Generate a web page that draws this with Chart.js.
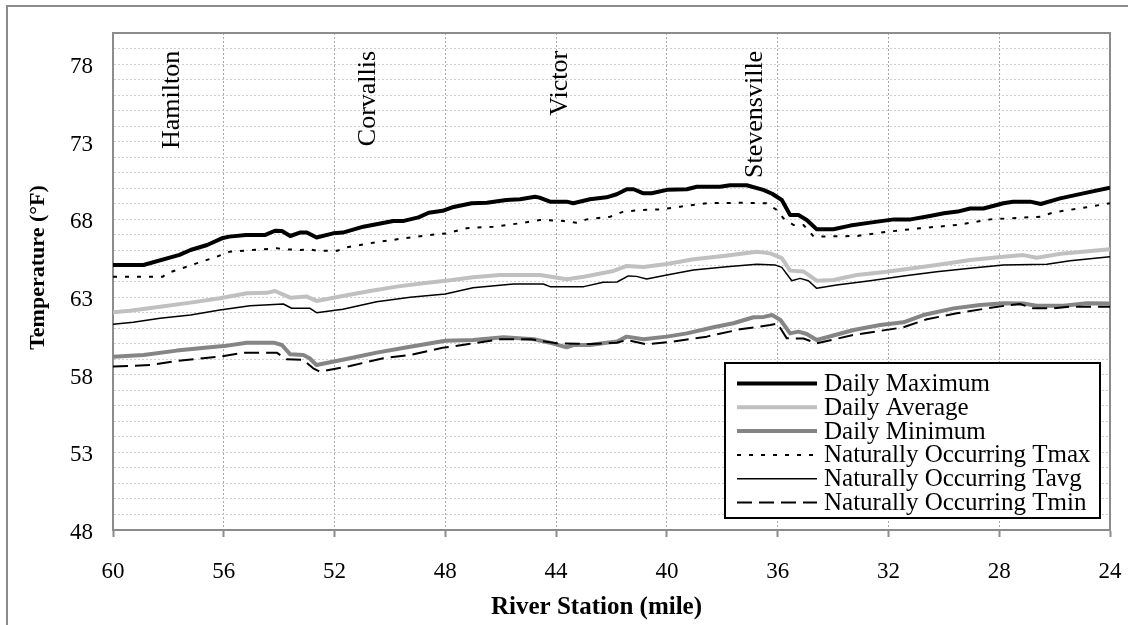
<!DOCTYPE html>
<html>
<head>
<meta charset="utf-8">
<script src="https://cdn.jsdelivr.net/npm/chart.js@4/dist/chart.umd.min.js"></script>
<style>
  html, body { margin: 0; padding: 0; background: #ffffff; }
  #wrap { width: 1128px; height: 625px; position: relative; }
</style>
</head>
<body>
<div id="wrap"><canvas id="c" width="1128" height="625"></canvas></div>
<script>
// ---------- data (river mile, temperature °F) ----------
const maxMiles = [60, 58.9, 57.6, 57.2, 56.6, 56.07, 55.8, 55.2, 54.5, 54.15, 53.9, 53.6, 53.25, 53.0, 52.65, 52.05, 51.7, 50.96, 49.88, 49.5, 48.97, 48.6, 48.1, 47.7, 47.05, 46.5, 45.8, 45.3, 44.76, 44.6, 44.22, 43.62, 43.38, 42.78, 42.18, 41.81, 41.45, 41.2, 40.85, 40.55, 40.0, 39.28, 38.92, 38.08, 37.72, 37.12, 36.52, 36.2, 35.85, 35.55, 35.25, 34.95, 34.59, 33.99, 33.38, 32.66, 31.8, 31.2, 30.5, 30.0, 29.5, 29.05, 28.57, 27.85, 27.5, 26.88, 26.5, 25.8, 24.84, 24.0];
const maxValues = [65.06, 65.06, 65.71, 66.03, 66.35, 66.78, 66.89, 67.0, 67.0, 67.27, 67.25, 66.93, 67.15, 67.15, 66.83, 67.1, 67.15, 67.53, 67.9, 67.9, 68.13, 68.43, 68.55, 68.8, 69.04, 69.07, 69.25, 69.3, 69.46, 69.4, 69.14, 69.14, 69.04, 69.3, 69.42, 69.62, 69.94, 69.94, 69.68, 69.68, 69.9, 69.94, 70.1, 70.1, 70.2, 70.2, 69.9, 69.65, 69.25, 68.28, 68.28, 67.96, 67.36, 67.36, 67.6, 67.79, 68.0, 68.0, 68.22, 68.39, 68.5, 68.7, 68.7, 69.04, 69.14, 69.14, 68.99, 69.35, 69.72, 70.04];

const avgMiles = [60, 59.4, 58.3, 57.2, 56.14, 55.17, 54.45, 54.15, 53.6, 53.0, 52.65, 51.8, 50.72, 49.76, 48.8, 47.83, 47.0, 46.03, 44.58, 43.62, 43.0, 41.93, 41.45, 40.85, 40.0, 39.04, 37.96, 36.75, 36.27, 35.85, 35.55, 35.07, 34.59, 33.99, 33.14, 32.06, 30.26, 29.05, 27.85, 27.13, 26.65, 25.68, 24.0];
const avgValues = [62.02, 62.12, 62.38, 62.64, 62.92, 63.24, 63.27, 63.39, 62.96, 63.03, 62.75, 63.03, 63.39, 63.67, 63.89, 64.08, 64.27, 64.42, 64.42, 64.14, 64.31, 64.68, 65.0, 64.93, 65.13, 65.43, 65.64, 65.92, 65.81, 65.5, 64.7, 64.65, 64.05, 64.1, 64.42, 64.63, 65.06, 65.39, 65.6, 65.7, 65.53, 65.81, 66.07];

const minMiles = [60, 58.9, 57.7, 56.5, 56.0, 55.17, 54.2, 53.9, 53.6, 53.13, 52.9, 52.65, 51.44, 50.48, 49.27, 48.0, 47.0, 45.9, 44.8, 44.22, 43.62, 43.38, 42.78, 42.18, 41.8, 41.45, 40.85, 40.0, 39.28, 38.32, 37.6, 36.87, 36.5, 36.2, 35.9, 35.55, 35.25, 34.95, 34.59, 33.26, 32.3, 31.46, 30.74, 29.65, 28.69, 27.85, 27.13, 26.65, 25.68, 24.84, 24.0];
const minValues = [59.16, 59.27, 59.55, 59.76, 59.84, 60.06, 60.06, 59.91, 59.31, 59.27, 59.06, 58.62, 59.06, 59.42, 59.8, 60.18, 60.23, 60.41, 60.28, 60.06, 59.76, 59.91, 59.91, 60.06, 60.13, 60.45, 60.28, 60.45, 60.66, 61.05, 61.31, 61.7, 61.72, 61.84, 61.52, 60.66, 60.77, 60.62, 60.23, 60.88, 61.2, 61.37, 61.84, 62.27, 62.49, 62.6, 62.58, 62.44, 62.44, 62.6, 62.58];

const natMaxMiles = [60, 58.2, 58.06, 57.16, 56.25, 55.78, 54.09, 53.73, 53.25, 52.9, 52.65, 51.9, 51.56, 50.6, 49.5, 48.55, 47.95, 47.23, 46.27, 45.3, 44.58, 43.74, 43.26, 42.9, 42.05, 41.57, 40.97, 40.25, 39.52, 38.56, 37.35, 36.4, 36.03, 35.79, 35.43, 35.07, 34.7, 33.14, 32.06, 30.85, 29.53, 28.33, 26.52, 26.04, 24.84, 24.0];
const natMaxValues = [64.31, 64.31, 64.53, 65.06, 65.6, 65.92, 66.14, 66.07, 66.03, 66.07, 65.98, 65.98, 66.2, 66.5, 66.78, 67.0, 67.1, 67.43, 67.53, 67.75, 67.96, 67.9, 67.79, 68.0, 68.17, 68.5, 68.6, 68.64, 68.82, 69.04, 69.07, 69.04, 68.6, 68.07, 67.64, 67.64, 66.89, 66.93, 67.2, 67.43, 67.64, 68.0, 68.17, 68.45, 68.78, 69.04];

const natAvgMiles = [60, 59.27, 58.3, 57.2, 56.14, 55.05, 53.85, 53.55, 52.9, 52.65, 51.7, 50.48, 49.27, 48.0, 47.0, 45.54, 44.46, 44.22, 43.0, 42.3, 41.8, 41.39, 41.1, 40.73, 40.0, 39.04, 37.84, 36.75, 36.1, 35.85, 35.49, 35.19, 34.89, 34.59, 33.87, 32.66, 31.46, 30.26, 29.05, 27.85, 26.28, 25.44, 24.0];
const natAvgValues = [61.25, 61.37, 61.63, 61.84, 62.17, 62.44, 62.55, 62.28, 62.28, 61.99, 62.21, 62.7, 62.98, 63.2, 63.6, 63.84, 63.84, 63.67, 63.67, 63.95, 63.97, 64.36, 64.33, 64.16, 64.42, 64.74, 64.95, 65.11, 65.07, 64.91, 64.05, 64.2, 64.05, 63.56, 63.78, 64.05, 64.36, 64.63, 64.85, 65.06, 65.11, 65.34, 65.6];

const natMinMiles = [60, 58.66, 57.7, 56.14, 55.3, 54.09, 53.73, 53.13, 52.77, 52.53, 51.44, 50.24, 49.27, 48.1, 47.0, 46.03, 44.9, 43.98, 42.78, 41.81, 41.45, 40.73, 39.77, 38.56, 37.36, 36.27, 36.0, 35.9, 35.67, 35.07, 34.59, 33.26, 31.46, 30.61, 29.53, 28.45, 27.6, 27.25, 26.77, 26.05, 25.44, 24.0];
const natMinValues = [58.52, 58.62, 58.88, 59.16, 59.42, 59.42, 58.99, 58.95, 58.41, 58.19, 58.56, 59.06, 59.27, 59.73, 60.02, 60.28, 60.28, 60.02, 59.98, 60.06, 60.23, 59.95, 60.13, 60.45, 60.92, 61.2, 61.3, 60.99, 60.34, 60.33, 60.02, 60.56, 61.05, 61.57, 61.95, 62.27, 62.49, 62.55, 62.27, 62.27, 62.38, 62.38];

const seriesLabels = ['Daily Maximum', 'Daily Average', 'Daily Minimum',
  'Naturally Occurring Tmax', 'Naturally Occurring Tavg', 'Naturally Occurring Tmin'];

// axis ticks and town labels
const xTickValues = [60, 56, 52, 48, 44, 40, 36, 32, 28, 24];
const yTickLabels = [48, 53, 58, 63, 68, 73, 78];
const yGridValues = [48,49,50,51,52,53,54,55,56,57,58,59,60,61,62,63,64,65,66,67,68,69,70,71,72,73,74,75,76,77,78,79,80];
const townNames = ['Hamilton', 'Corvallis', 'Victor', 'Stevensville'];
const townMiles = [57.87, 50.78, 43.86, 36.82];
const townTextTop = 78.85;

const xTitle = 'River Station (mile)';
const yTitle = 'Temperature (°F)';

// ---------- build ----------
const pts = (m, v) => m.map((x, i) => ({ x: x, y: v[i] }));
const SERIF = '"Liberation Serif", "Times New Roman", serif';
Chart.defaults.font.family = SERIF;
Chart.defaults.color = '#000000';

const datasets = [
  { label: seriesLabels[0], data: pts(maxMiles, maxValues), borderColor: '#000000', borderWidth: 4, order: 3 },
  { label: seriesLabels[1], data: pts(avgMiles, avgValues), borderColor: '#c0c0c0', borderWidth: 4, order: 3 },
  { label: seriesLabels[2], data: pts(minMiles, minValues), borderColor: '#858585', borderWidth: 4, order: 3 },
  { label: seriesLabels[3], data: pts(natMaxMiles, natMaxValues), borderColor: '#000000', borderWidth: 2, borderDash: [4, 8], order: 1 },
  { label: seriesLabels[4], data: pts(natAvgMiles, natAvgValues), borderColor: '#000000', borderWidth: 1.5, order: 1 },
  { label: seriesLabels[5], data: pts(natMinMiles, natMinValues), borderColor: '#000000', borderWidth: 2, borderDash: [15, 7], order: 1 }
];
datasets.forEach(d => { d.pointRadius = 0; d.tension = 0; d.fill = false; d.borderCapStyle = 'butt'; d.borderJoinStyle = 'round'; });

const decorPlugin = {
  id: 'decor',
  beforeDraw(chart) {
    const ctx = chart.ctx;
    ctx.save();
    ctx.fillStyle = '#ffffff';
    ctx.fillRect(0, 0, chart.width, chart.height);
    ctx.strokeStyle = '#8c8c8c';
    ctx.lineWidth = 2;
    ctx.strokeRect(7, 6, chart.width + 40, chart.height + 40);
    ctx.restore();
  },
  beforeDatasetsDraw(chart) {
    const ctx = chart.ctx, a = chart.chartArea;
    ctx.save();
    ctx.strokeStyle = '#8c8c8c';
    ctx.lineWidth = 2;
    ctx.beginPath();
    ctx.moveTo(a.left, a.top); ctx.lineTo(a.right, a.top); ctx.lineTo(a.right, a.bottom);
    ctx.stroke();
    ctx.restore();
  },
  afterDraw(chart) {
    const ctx = chart.ctx, a = chart.chartArea;
    const xs = chart.scales.x, ys = chart.scales.y;
    ctx.save();
    // town labels
    ctx.fillStyle = '#000000';
    ctx.font = '26px ' + SERIF;
    ctx.textAlign = 'right';
    ctx.textBaseline = 'middle';
    townNames.forEach((name, i) => {
      ctx.save();
      ctx.translate(xs.getPixelForValue(townMiles[i]), ys.getPixelForValue(townTextTop));
      ctx.rotate(-Math.PI / 2);
      ctx.fillText(name, 0, 0);
      ctx.restore();
    });
    // axis titles
    ctx.font = 'bold 25px ' + SERIF;
    ctx.textAlign = 'center';
    ctx.textBaseline = 'middle';
    ctx.fillText(xTitle, (a.left + a.right) / 2 - 15, a.bottom + 78);
    ctx.save();
    ctx.font = 'bold 22px ' + SERIF;
    ctx.translate(38, (a.top + a.bottom) / 2 - 14);
    ctx.rotate(-Math.PI / 2);
    ctx.fillText(yTitle, 0, 0);
    ctx.restore();
    // legend
    const bw = 375, bh = 155;
    const bx = a.right - 10 - bw, by = a.bottom - 12 - bh;
    ctx.fillStyle = '#ffffff';
    ctx.fillRect(bx, by, bw, bh);
    ctx.strokeStyle = '#000000';
    ctx.lineWidth = 2;
    ctx.strokeRect(bx, by, bw, bh);
    ctx.font = '25px ' + SERIF;
    ctx.textAlign = 'left';
    ctx.textBaseline = 'middle';
    chart.data.datasets.forEach((d, i) => {
      const cy = by + 20.5 + i * 23.8;
      ctx.save();
      ctx.strokeStyle = d.borderColor;
      ctx.lineWidth = d.borderWidth;
      ctx.setLineDash(d.borderDash || []);
      ctx.beginPath();
      ctx.moveTo(bx + 12, cy);
      ctx.lineTo(bx + 92, cy);
      ctx.stroke();
      ctx.restore();
      ctx.fillStyle = '#000000';
      ctx.fillText(d.label, bx + 99, cy + 1);
    });
    ctx.restore();
  }
};

new Chart(document.getElementById('c'), {
  type: 'line',
  data: { datasets: datasets },
  plugins: [decorPlugin],
  options: {
    responsive: false,
    animation: false,
    events: [],
    layout: { padding: { left: 0, top: 33, right: 18, bottom: 0 } },
    plugins: { legend: { display: false }, tooltip: { enabled: false }, title: { display: false } },
    scales: {
      x: {
        type: 'linear',
        reverse: true,
        min: 24, max: 60,
        afterBuildTicks: s => { s.ticks = xTickValues.map(v => ({ value: v })); },
        afterFit: s => { s.height = 95; s.paddingLeft = 0; s.paddingRight = 0; },
        ticks: { autoSkip: false, maxRotation: 0, padding: 21, color: '#000000', font: { family: SERIF, size: 23 } },
        grid: { color: '#a8a8a8', lineWidth: 1, tickLength: 7, tickColor: '#8c8c8c', tickWidth: 2 },
        border: { display: true, color: '#8c8c8c', width: 2, dash: [2, 2] }
      },
      y: {
        type: 'linear',
        min: 48, max: 80,
        afterBuildTicks: s => { s.ticks = yGridValues.map(v => ({ value: v })); },
        afterFit: s => { s.width = 113; s.paddingTop = 0; s.paddingBottom = 0; },
        ticks: {
          autoSkip: false, padding: 20, labelOffset: 3, color: '#000000', font: { family: SERIF, size: 23 },
          callback: v => (yTickLabels.indexOf(v) >= 0 ? String(v) : '')
        },
        grid: { color: '#cfcfcf', lineWidth: 1, drawTicks: false },
        border: { display: true, color: '#8c8c8c', width: 2, dash: [2, 2] }
      }
    }
  }
});
</script>
</body>
</html>
